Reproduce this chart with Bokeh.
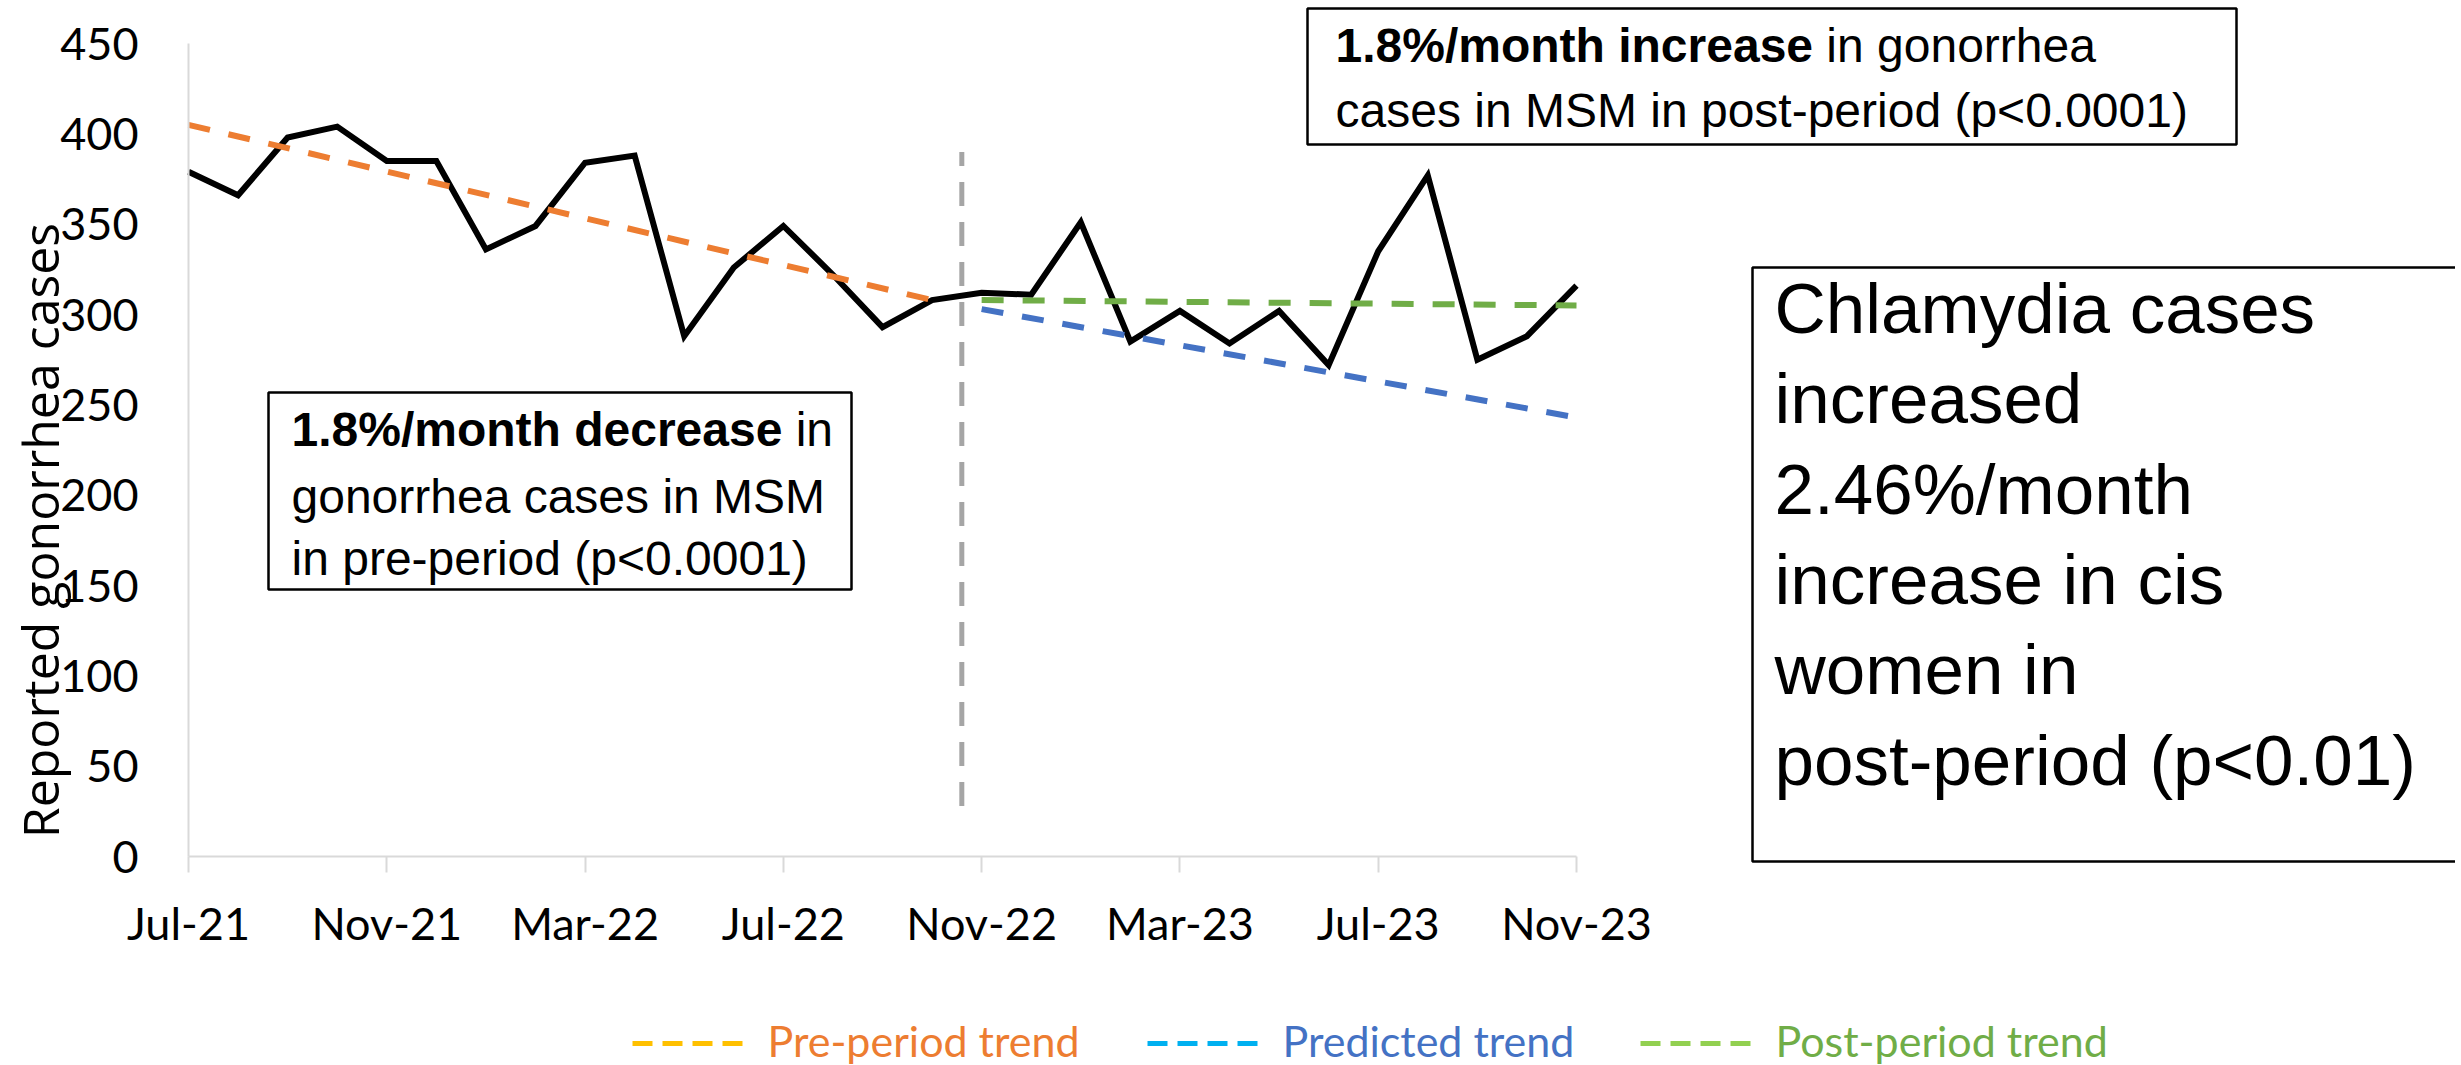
import math
from bokeh.plotting import figure
from bokeh.models import (FixedTicker, Label, BoxAnnotation, Range1d, LinearAxis)
from bokeh.embed import file_html
from bokeh.resources import INLINE

# ---------------- data ----------------
months = list(range(29))  # 0 = Jul-21 ... 28 = Nov-23
cases = [379, 366, 398, 404, 385, 385, 336, 349, 384, 388, 288, 326, 349, 322,
         293, 308, 312, 311, 351, 285, 302, 284, 302, 272, 335, 377, 275, 288, 316]

pre_x = [0, 15]
pre_y = [405, 308]
pred_x = [16, 28]
pred_y = [303, 243]
post_x = [16, 28]
post_y = [308, 305]
cut_x = [15.6, 15.6]
cut_y = [28, 390]

x_tick_pos = [0, 4, 8, 12, 16, 20, 24, 28]
x_tick_labels = ["Jul-21", "Nov-21", "Mar-22", "Jul-22", "Nov-22", "Mar-23", "Jul-23", "Nov-23"]
y_ticks = [0, 50, 100, 150, 200, 250, 300, 350, 400, 450]

legend_labels = ["Pre-period trend", "Predicted trend", "Post-period trend"]
legend_marker_colors = ["#FFC000", "#00B0F0", "#92D050"]
legend_text_colors = ["#ED7D31", "#4472C4", "#70AD47"]

# ---------------- layout (pixel geometry) ----------------
W, H = 2455, 1065
X0, X28 = 188.0, 1576.0     # px of month 0 and month 28
Y0, Y450 = 856.0, 43.0      # px of value 0 and value 450
kx = (X28 - X0) / 28.0
ky = (Y0 - Y450) / 450.0

p = figure(width=W, height=H, output_backend="svg", toolbar_location=None,
           x_range=Range1d(-X0 / kx, (W - X0) / kx),
           y_range=Range1d(-(H - Y0) / ky, Y0 / ky),
           x_axis_location=None, y_axis_location=None, min_border=0)
p.outline_line_color = None
p.xgrid.visible = False
p.ygrid.visible = False
p.background_fill_color = "white"
p.border_fill_color = "white"

ax = LinearAxis(fixed_location=0, bounds=(0, 28))
ax.ticker = FixedTicker(ticks=x_tick_pos)
ax.major_label_overrides = {k: v for k, v in zip(x_tick_pos, x_tick_labels)}
ax.axis_line_color = "#D9D9D9"
ax.axis_line_width = 2
ax.major_tick_line_color = "#D9D9D9"
ax.major_tick_line_width = 2
ax.major_tick_out = 16
ax.major_tick_in = 0
ax.minor_tick_line_color = None
ax.major_label_text_font = "Lato"
ax.major_label_text_font_size = "45px"
ax.major_label_text_color = "black"
ax.major_label_standoff = 23
p.add_layout(ax, "below")

ay = LinearAxis(fixed_location=0, bounds=(0, 450))
ay.ticker = FixedTicker(ticks=y_ticks)
ay.axis_line_color = "#D9D9D9"
ay.axis_line_width = 2
ay.major_tick_out = 0
ay.major_tick_in = 0
ay.major_tick_line_color = None
ay.minor_tick_line_color = None
ay.major_label_text_font = "Lato"
ay.major_label_text_font_size = "45px"
ay.major_label_text_color = "black"
ay.major_label_standoff = 50
p.add_layout(ay, "left")

# ---------------- series ----------------
p.line(months, cases, line_color="black", line_width=6, line_join="miter")
p.line(cut_x, cut_y, line_color="#A5A5A5", line_width=5, line_dash="24 16")
p.line(pre_x, pre_y, line_color="#ED7D31", line_width=6, line_dash="22 19")
p.line(pred_x, pred_y, line_color="#4472C4", line_width=6, line_dash="22 19")
p.line(post_x, post_y, line_color="#70AD47", line_width=6, line_dash="22 19")


# ---------------- annotations (screen px, origin bottom-left of canvas) ----------------
def sx(X):
    return X


def sy(Y):
    return H - Y


BASE = 0.30  # shift so that 'alphabetic' lands on the wanted baseline


def lab(text, X, Y, size, bold=False, font="Liberation Sans", color="black",
        align="left", angle=0.0):
    dy = BASE * size
    if angle:
        X, Yb = X - dy, Y
    else:
        X, Yb = X, Y - dy
    p.add_layout(Label(x=sx(X), y=sy(Yb), x_units="screen", y_units="screen",
                       text=text, text_font=font, text_font_size=f"{size}px",
                       text_font_style="bold" if bold else "normal",
                       text_color=color, text_align=align, text_baseline="alphabetic",
                       angle=angle))


def box(L, T, R, B, color="black", fill=None, lw=2.5):
    p.add_layout(BoxAnnotation(left=sx(L), right=sx(R), top=sy(T), bottom=sy(B),
                               left_units="screen", right_units="screen",
                               top_units="screen", bottom_units="screen",
                               fill_color=fill, fill_alpha=1.0 if fill else 0,
                               line_color=color, line_alpha=1.0 if color else 0,
                               line_width=lw))


# y axis title
lab("Reported gonorrhea cases", 54, 530, 50, font="Open Sans", align="center", angle=math.pi / 2)

FS = 48
# left box
box(268, 392, 851, 589)
lab("1.8%/month decrease", 291, 443, FS, bold=True)
lab("in", 291 + 10.226 * FS + 0.278 * FS, 443, FS)
lab("gonorrhea cases in MSM", 291, 510, FS)
lab("in pre-period (p<0.0001)", 291, 572, FS)

# top box
box(1307, 8, 2236, 144)
lab("1.8%/month increase", 1335, 59, FS, bold=True)
lab("in gonorrhea", 1335 + 9.948 * FS + 0.278 * FS, 59, FS)
lab("cases in MSM in post-period (p<0.0001)", 1335, 124, FS)

# right box
box(1752, 267, 2480, 861)
right_lines = ["Chlamydia cases", "increased", "2.46%/month", "increase in cis",
               "women in", "post-period (p<0.01)"]
for i, t in enumerate(right_lines):
    lab(t, 1774, 329 + 90.4 * i, 71)

# legend (dashed key + coloured label)
leg_x = [632, 1147, 1640]
for lx, text, mc, tc in zip(leg_x, legend_labels, legend_marker_colors, legend_text_colors):
    for k in range(4):
        x0 = lx + 30 * k
        box(x0, 1040.5, x0 + 20, 1045.5, color=None, fill=mc, lw=0)
    lab(text, lx + 135, 1053, 43, font="Lato", color=tc)

open("out.html", "w").write(file_html(p, INLINE))
